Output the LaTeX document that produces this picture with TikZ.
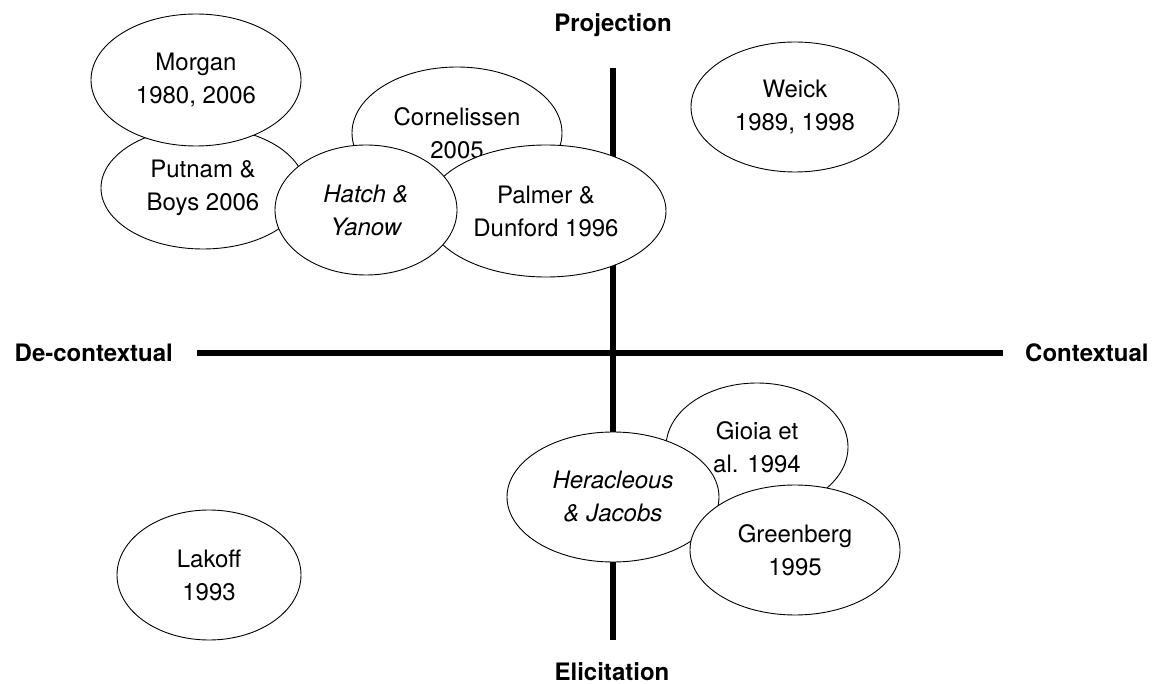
\documentclass[tikz,border=0pt]{standalone}
\usepackage{fontspec}
\setmainfont{TeX Gyre Heros}
\usetikzlibrary{shapes.geometric}
\def\axiswidth{6.5pt}
\def\textsize{24}
\def\textskip{33}

\begin{document}
\begin{tikzpicture}[
        x=1pt,y=-1pt,
        bubble/.style={%
            ellipse,draw,fill=white,
            line width=0.9pt,
            inner sep=0pt,
            outer sep=0pt,
            align=center,
            font=\fontsize{\textsize}{\textskip}\selectfont,
        },
        radii/.style 2 args={minimum width=2*#1,minimum height=2*#2},
        axislabel/.style={font=\fontsize{\textsize}{\textskip}\selectfont\bfseries,inner sep=0pt},
        axisline/.style={line width=\axiswidth},
    ]
    \useasboundingbox (0,0) rectangle (1160,684);

    % axes
    \coordinate (axistop) at (613,68);
    \coordinate (axisbottom) at (613,640);
    \coordinate (axisleft) at (197,353);
    \coordinate (axisright) at (1003,353);
    \draw[axisline] (axistop) -- (axisbottom);
    \draw[axisline] (axisleft) -- (axisright);

    \node[axislabel,anchor=base] (projection) at (613,31.5) {Projection};
    \node[axislabel,anchor=base] (elicitation) at (612,680) {Elicitation};
    \node[axislabel,anchor=base east] (decontextual) at (173,362) {De-contextual};
    \node[axislabel,anchor=base west] (contextual) at (1025,362) {Contextual};

    % upper left cluster
    \node[bubble,radii={102}{61}] (putnam) at (203,188) {Putnam \&\\Boys 2006};
    \node[bubble,radii={105}{66}] (morgan) at (196,80) {Morgan\\1980, 2006};
    \node[bubble,radii={105}{66}] (cornelissen) at (457,133) {Cornelissen\\2005};
    \node[bubble,radii={120}{66}] (palmer) at (546,211) {Palmer \&\\Dunford 1996};
    \node[bubble,radii={91}{65}] (hatch) at (366,210) {\itshape Hatch \&\\\itshape Yanow};

    % upper right
    \node[bubble,radii={104}{65}] (weick) at (795,107) {Weick\\1989, 1998};

    % lower right cluster
    \node[bubble,radii={91}{64}] (gioia) at (757,447) {Gioia et\\al. 1994};
    \node[bubble,radii={106}{65}] (heracleous) at (613,497) {\itshape Heracleous\\\itshape\& Jacobs};
    \node[bubble,radii={105}{65}] (greenberg) at (795,550) {Greenberg\\1995};

    % lower left
    \node[bubble,radii={92}{65}] (lakoff) at (209,575) {Lakoff\\1993};

\end{tikzpicture}
\end{document}
